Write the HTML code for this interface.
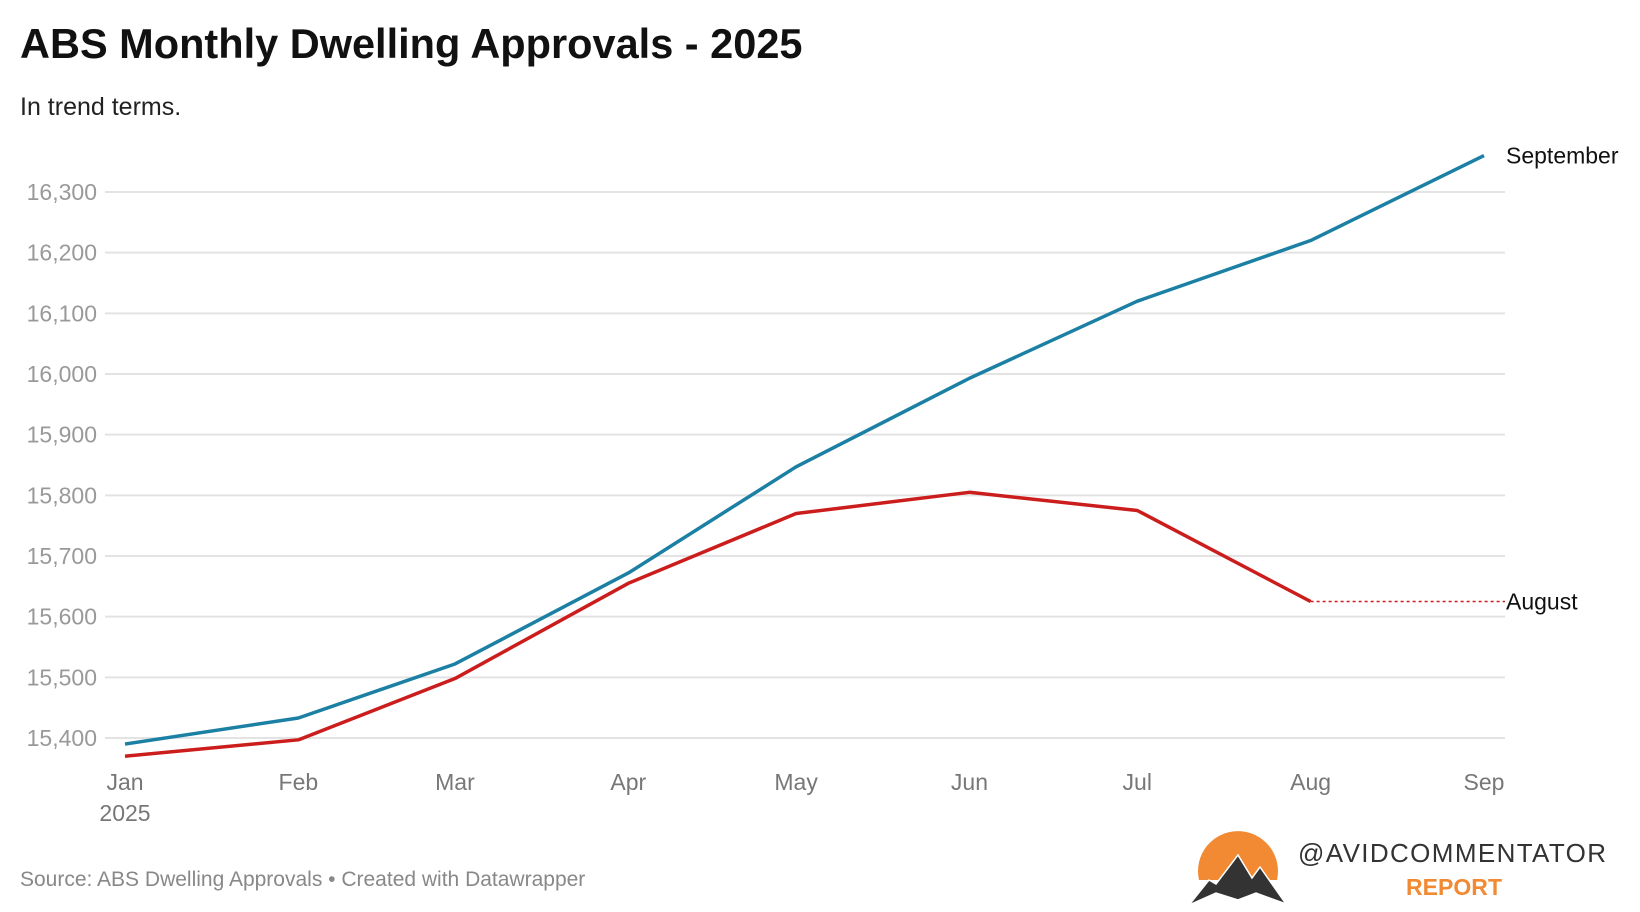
<!DOCTYPE html>
<html><head><meta charset="utf-8"><style>
body{margin:0;background:#fff;font-family:"Liberation Sans",sans-serif;}
svg{display:block}
</style></head><body>
<svg width="1640" height="912" viewBox="0 0 1640 912">
<text x="20" y="58" font-size="41.5" font-weight="bold" fill="#111">ABS Monthly Dwelling Approvals - 2025</text>
<text x="20" y="115" font-size="25" fill="#222">In trend terms.</text>
<g id="grid"></g><g id="xaxis"></g><g id="lines"></g>
<text x="20" y="886" font-size="21" fill="#888">Source: ABS Dwelling Approvals • Created with Datawrapper</text>
<g>
<path d="M1199,880 A40,40 0 1 1 1277,880 Z" fill="#f28a33"/>
<path d="M1189,905 L1209,880 L1216,884 L1238,855 L1252,878 L1260,867 L1286,904 L1256,893 L1238,900 L1216,893 Z" fill="#333" stroke="#fff" stroke-width="1.5"/>
<text x="1298" y="862" font-size="26" textLength="308" lengthAdjust="spacing" fill="#333">@AVIDCOMMENTATOR</text>
<text x="1406" y="895" font-size="23" font-weight="bold" textLength="96" lengthAdjust="spacing" fill="#f28a33">REPORT</text>
</g>
</svg>
<script>
const months=["Jan","Feb","Mar","Apr","May","Jun","Jul","Aug","Sep"];
const dayOfYear=[0,31,59,90,120,151,181,212,243];
const september=[15390,15433,15522,15672,15847,15993,16120,16220,16360];
const august=[15370,15397,15498,15655,15770,15805,15775,15625];
const yTicks=[15400,15500,15600,15700,15800,15900,16000,16100,16200,16300];
const NS="http://www.w3.org/2000/svg";
const x=i=>125+dayOfYear[i]*(1484-125)/243;
const y=v=>738-(v-15400)*(738-192)/900;
function mk(t,a,p){const e=document.createElementNS(NS,t);for(const k in a)e.setAttribute(k,a[k]);p.appendChild(e);return e;}
const grid=document.getElementById('grid');
yTicks.forEach(v=>{
 const l=mk('line',{x1:105,x2:1505,y1:y(v),y2:y(v),stroke:'#e3e3e3','stroke-width':2},grid);
 
 
 const t=mk('text',{x:97,y:y(v)+8,'font-size':23,fill:'#999','text-anchor':'end'},grid);
 t.textContent=v.toLocaleString('en-US');
 
 
});
const xa=document.getElementById('xaxis');
months.forEach((m,i)=>{
 const t=mk('text',{x:x(i),y:790,'font-size':23,fill:'#777','text-anchor':'middle'},xa);
 t.textContent=m;
 
 
});
const yr=mk('text',{x:x(0),y:821,'font-size':23,fill:'#777','text-anchor':'middle'},xa);
yr.textContent='2025';


const g=document.getElementById('lines');
function line(arr,col,name){
 const p=mk('polyline',{points:arr.map((v,i)=>x(i)+','+y(v)).join(' '),fill:'none',stroke:col,'stroke-width':3.5,'stroke-linejoin':'round'},g);
 
 
}
line(september,'#1b80a3','september-line');
line(august,'#cc1d1d','august-line');
const last=august[august.length-1];
const d=mk('line',{x1:x(august.length-1),x2:1505,y1:y(last),y2:y(last),stroke:'#cc1d1d','stroke-width':1.5,'stroke-dasharray':'3,3'},g);


const l1=mk('text',{x:1506,y:y(september[8])+8,'font-size':23,fill:'#111'},g);
l1.textContent='September';


const l2=mk('text',{x:1506,y:y(last)+8,'font-size':23,fill:'#111'},g);
l2.textContent='August';


</script>
</body></html>
